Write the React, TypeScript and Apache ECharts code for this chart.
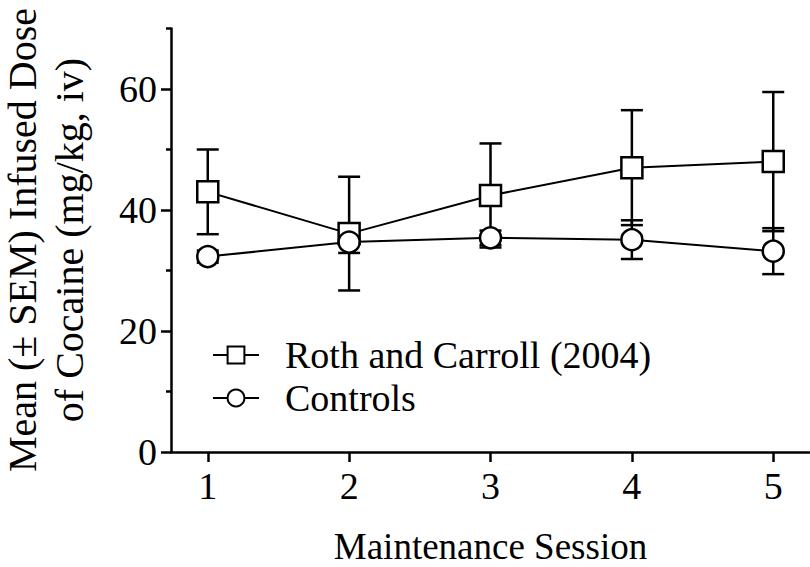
import React, { useEffect, useRef } from "react";
import * as echarts from "echarts";

const sessions = [1, 2, 3, 4, 5];
const rothMean = [43.0, 36.1, 42.4, 47.0, 48.0];
const rothSem = [7.0, 9.4, 8.6, 9.5, 11.5];
const controlMean = [32.3, 34.7, 35.4, 35.1, 33.2];
const controlSem = [1.0, 1.8, 1.2, 3.2, 3.8];
const yLabelTicks = [0, 20, 40, 60];
const yMinorTicks = [10, 30, 50, 70];
const seriesNames = ["Roth and Carroll (2004)", "Controls"];
const yTitleLines = ["Mean (± SEM) Infused Dose", "of Cocaine (mg/kg, iv)"];
const xTitle = "Maintenance Session";

const FONT = "'Liberation Serif', 'Times New Roman', 'DejaVu Serif', serif";
const FS = 38;

export default function App() {
  const ref = useRef<HTMLDivElement>(null);
  useEffect(() => {
    if (!ref.current) return;
    const chart = echarts.init(ref.current, undefined, { renderer: "svg" });
    const errData = [
      ...sessions.map((s, i) => [s, rothMean[i] - rothSem[i], rothMean[i] + rothSem[i]]),
      ...sessions.map((s, i) => [s, controlMean[i] - controlSem[i], controlMean[i] + controlSem[i]]),
    ];
    const textBase = { fontFamily: FONT, fontSize: FS, color: "#000" };
    const yTitleX = [22.5, 69];
    chart.setOption({
      animation: false,
      grid: { left: 171, right: 0, top: 28.5, bottom: 115, containLabel: false, outerBoundsMode: "none" },
      graphic: yTitleLines.map((t, i) => ({
        type: "text",
        x: yTitleX[i],
        y: 240,
        rotation: Math.PI / 2,
        silent: true,
        style: {
          text: t,
          fontFamily: FONT,
          fontSize: 40,
          lineHeight: 26,
          fill: "#000",
          align: "center",
          verticalAlign: "middle",
        },
      })),
      legend: {
        orient: "vertical",
        left: 212,
        top: 336,
        padding: 0,
        itemGap: 5,
        itemWidth: 46,
        itemHeight: 21,
        data: seriesNames,
        textStyle: { ...textBase, lineHeight: 38, padding: [0, 0, 0, 21] },
      },
      xAxis: {
        type: "value",
        min: 0.74,
        max: 5.26,
        splitLine: { show: false },
        axisLine: { show: true, lineStyle: { color: "#000", width: 2.5 } },
        axisTick: { show: true, customValues: sessions, length: 10, lineStyle: { color: "#000", width: 2.5 } },
        axisLabel: { customValues: sessions, margin: 15, ...textBase },
        name: xTitle,
        nameLocation: "middle",
        nameGap: 77,
        nameTextStyle: { ...textBase, fontSize: 37, lineHeight: 34 },
      },
      yAxis: [
        {
          type: "value",
          min: 0,
          max: 70,
          splitLine: { show: false },
          axisLine: { show: true, lineStyle: { color: "#000", width: 2.5 } },
          axisTick: { show: true, customValues: yLabelTicks, length: 10, lineStyle: { color: "#000", width: 2.5 } },
          axisLabel: { customValues: yLabelTicks, margin: 14, ...textBase },
        },
        {
          type: "value",
          min: 0,
          max: 70,
          position: "left",
          splitLine: { show: false },
          axisLine: { show: false },
          axisTick: { show: true, customValues: yMinorTicks, length: 5, lineStyle: { color: "#000", width: 2.5 } },
          axisLabel: { show: false },
        },
      ],
      series: [
        {
          type: "custom",
          name: "err",
          z: 1,
          silent: true,
          data: errData,
          renderItem: (params: any, api: any) => {
            const x = api.value(0);
            const top = api.coord([x, api.value(2)]);
            const bot = api.coord([x, api.value(1)]);
            const hw = 11;
            const style = { stroke: "#000", lineWidth: 2.5 };
            return {
              type: "group",
              children: [
                { type: "line", shape: { x1: top[0], y1: top[1], x2: bot[0], y2: bot[1] }, style },
                { type: "line", shape: { x1: top[0] - hw, y1: top[1], x2: top[0] + hw, y2: top[1] }, style },
                { type: "line", shape: { x1: bot[0] - hw, y1: bot[1], x2: bot[0] + hw, y2: bot[1] }, style },
              ],
            };
          },
        },
        {
          type: "line",
          name: seriesNames[0],
          z: 2,
          data: sessions.map((s, i) => [s, rothMean[i]]),
          symbol: "rect",
          symbolSize: 21,
          lineStyle: { color: "#000", width: 2 },
          itemStyle: { color: "#fff", borderColor: "#000", borderWidth: 2.5 },
        },
        {
          type: "line",
          name: seriesNames[1],
          z: 3,
          data: sessions.map((s, i) => [s, controlMean[i]]),
          symbol: "circle",
          symbolSize: 21,
          lineStyle: { color: "#000", width: 2 },
          itemStyle: { color: "#fff", borderColor: "#000", borderWidth: 2.5 },
        },
      ],
    });
    return () => chart.dispose();
  }, []);
  return (
    <div
      ref={ref}
      style={{ position: "absolute", left: 0, top: 0, width: 810, height: 567, background: "#fff" }}
    />
  );
}
